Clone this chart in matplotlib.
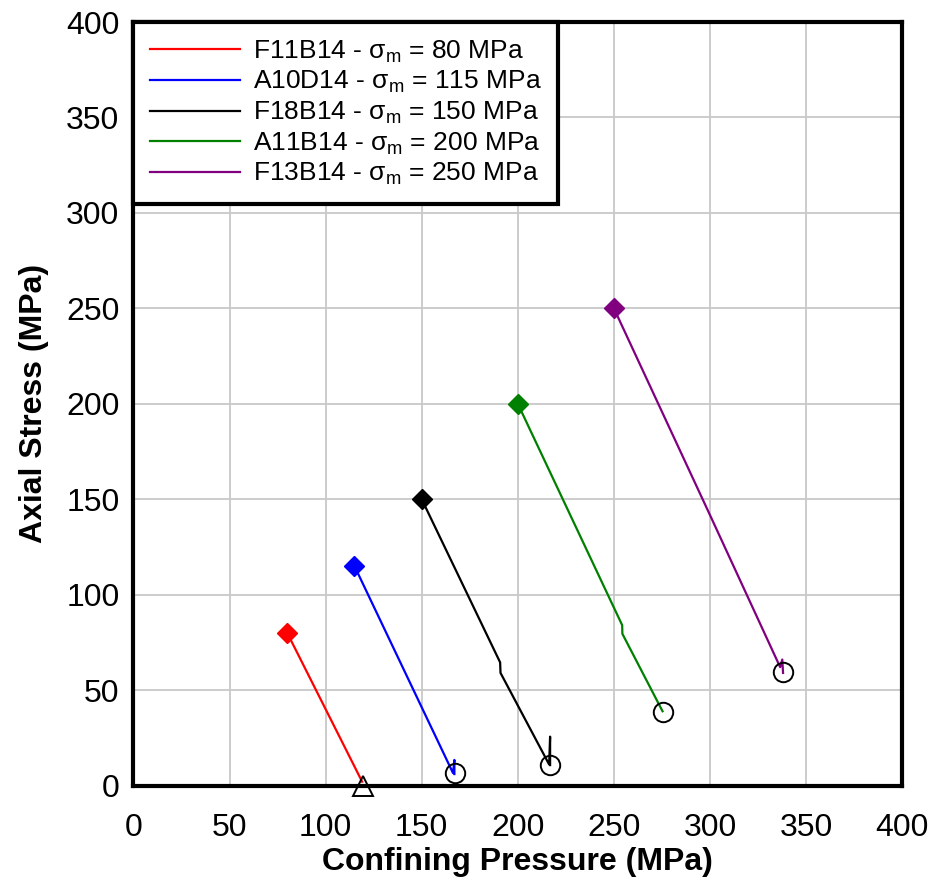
import matplotlib
matplotlib.use('Agg')
import matplotlib.pyplot as plt

plt.rcParams['font.family'] = ['Liberation Sans', 'DejaVu Sans']
plt.rcParams['mathtext.fontset'] = 'custom'
plt.rcParams['mathtext.rm'] = 'Liberation Sans'
plt.rcParams['mathtext.it'] = 'Liberation Sans'

# stress paths: confining pressure (x) vs axial stress (y)
labels = ['F11B14 - $\\sigma_{\\mathrm{m}}$ = 80 MPa',
          'A10D14 - $\\sigma_{\\mathrm{m}}$ = 115 MPa',
          'F18B14 - $\\sigma_{\\mathrm{m}}$ = 150 MPa',
          'A11B14 - $\\sigma_{\\mathrm{m}}$ = 200 MPa',
          'F13B14 - $\\sigma_{\\mathrm{m}}$ = 250 MPa']
colors = ['red', 'blue', 'black', 'green', 'purple']

red_x = [80, 119]
red_y = [80, 2]
blue_x = [115, 166.3, 167.0, 167.0]
blue_y = [115, 6.5, 13.4, 6.0]
black_x = [150, 190.8, 191.0, 216.3, 216.8, 216.8]
black_y = [150, 64.5, 59.0, 11.0, 25.6, 10.7]
green_x = [200, 254.3, 254.4, 275.3]
green_y = [200, 84.0, 79.5, 38.9]
purple_x = [250, 301.0, 336.5, 337.6, 338.0]
purple_y = [250, 139.5, 62.0, 66.0, 59.0]

paths_x = [red_x, blue_x, black_x, green_x, purple_x]
paths_y = [red_y, blue_y, black_y, green_y, purple_y]

# start points (diamonds) = mean stress
start_x = [80, 115, 150, 200, 250]
start_y = [80, 115, 150, 200, 250]

# end points
fail_x = [167.4, 216.8, 275.5, 338.0]
fail_y = [6.4, 10.7, 38.7, 59.7]
tri_x = [119.6]
tri_y = [0]

fig = plt.figure(figsize=(9.33, 8.82), dpi=100)
ax = fig.add_axes([0.143, 0.1094, 0.824, 0.8656])

for i in range(len(paths_x)):
    ax.plot(paths_x[i], paths_y[i], color=colors[i], lw=1.6, label=labels[i], zorder=3)
    ax.plot(start_x[i], start_y[i], marker='D', ms=10, color=colors[i], zorder=4)

ax.plot(fail_x, fail_y, 'o', ms=14, mfc='none', mec='black', mew=1.4, zorder=5)
ax.plot(tri_x, tri_y, '^', ms=14, mfc='none', mec='black', mew=1.4, zorder=5, clip_on=False)

ax.set_xlim(0, 400)
ax.set_ylim(0, 400)
ax.set_xticks(range(0, 401, 50))
ax.set_yticks(range(0, 401, 50))
ax.grid(True, color='#c8c8c8', lw=1.3)
ax.set_axisbelow(True)
ax.tick_params(axis='both', length=0, labelsize=23)
ax.tick_params(axis='x', pad=20)
ax.tick_params(axis='y', pad=10)
for s in ax.spines.values():
    s.set_linewidth(3)

ax.set_xlabel('Confining Pressure (MPa)', fontsize=23, fontweight='bold', labelpad=3)
ax.set_ylabel('Axial Stress (MPa)', fontsize=23, fontweight='bold', labelpad=12)

leg = ax.legend(loc='upper left', bbox_to_anchor=(0, 1), borderaxespad=0,
                fontsize=19, handlelength=3.4, handletextpad=0.5,
                labelspacing=0.165, borderpad=0.63, fancybox=False, framealpha=1)
leg.get_frame().set_edgecolor('black')
leg.get_frame().set_linewidth(3)

fig.savefig('out.png', dpi=100)
